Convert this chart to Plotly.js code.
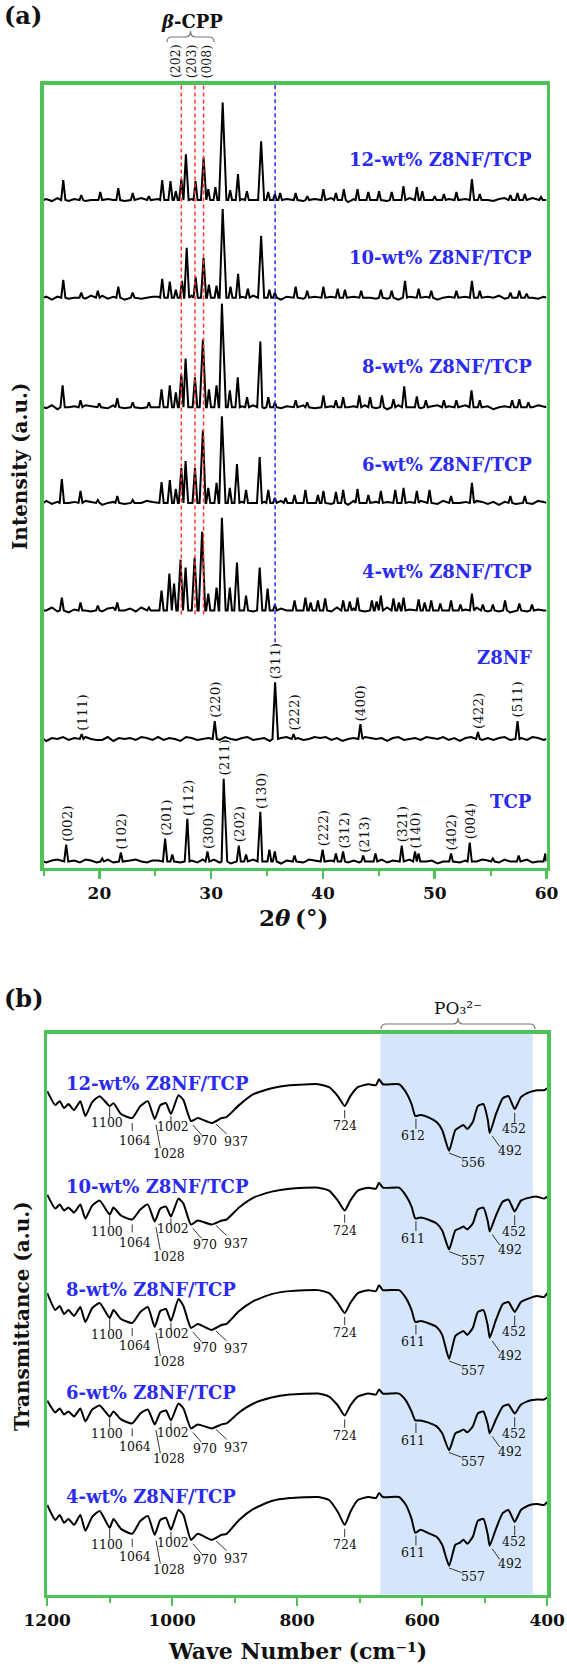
<!DOCTYPE html>
<html><head><meta charset="utf-8">
<script src="https://cdn.plot.ly/plotly-3.0.1.min.js"></script>
<style>body{margin:0;background:#fff}#chart{width:567px;height:1666px}</style>
</head><body><div id="chart"></div>
<script>
// ================= DATA : panel (a) XRD =================
// peak positions (2theta, deg) and intensities (a.u.)
const tcpPos = [17.03,20.25,21.92,25.88,26.52,27.87,29.67,31.12,32.47,33.12,34.40,35.21,35.69,37.46,39.97,41.16,41.80,43.60,44.70,47.05,48.24,48.55,51.46,53.13,55.20,57.51,59.90];
const tcpInt = [17,3,9,23,7,43,10,83,16,7,50,12,10,6,12,8,10,6,8,16,10,8,8,19,3,6,8];
const z8Pos = [18.41,30.32,35.72,37.37,43.35,53.87,57.41];
const z8Int = [5,18,57,5,15,7,18];
const c4Pos = [16.64,18.31,19.86,21.60,24.43,25.56,26.26,26.68,27.26,27.71,28.52,29.19,29.74,30.48,30.96,31.67,32.31,33.12,34.34,35.05,35.70,37.46,38.43,38.90,39.55,40.20,41.81,42.40,43.09,44.38,44.80,45.18,46.31,46.80,47.21,48.56,49.10,49.69,50.50,51.46,52.30,53.33,54.30,55.20,56.29,57.57,58.70];
const c4Int = [13,8,5,8,3,20,37,27,51,43,53,79,17,23,93,23,48,15,43,22,6,10,13,8,10,12,10,9,13,10,9,15,12,8,13,11,8,10,7,10,6,17,6,6,10,7,6];
const c6Pos = [16.64,18.31,19.86,21.60,22.98,25.56,26.30,26.84,27.33,27.71,28.55,29.26,29.74,30.48,30.96,31.67,32.31,33.12,34.34,35.11,35.70,36.66,37.46,38.43,39.55,40.04,41.16,41.81,43.09,44.06,45.18,46.47,47.21,48.40,49.53,51.46,53.33,56.77,58.06];
const c6Int = [24,12,3,7,3,21,23,14,35,42,35,73,15,20,87,15,39,13,46,13,5,5,8,13,8,12,11,13,14,8,12,13,15,12,13,7,20,7,7];
const c8Pos = [16.71,18.31,19.99,21.60,22.98,24.43,25.56,26.30,26.84,27.33,27.71,28.55,29.26,29.80,30.48,30.96,31.67,32.38,33.21,34.40,35.11,35.70,37.56,38.59,40.04,41.16,41.81,43.25,44.22,45.28,46.31,47.27,48.40,49.21,50.82,51.94,53.29,54.03,56.93,57.57,58.38];
const c8Int = [22,7,4,9,5,5,18,22,15,33,49,30,68,18,22,104,17,30,10,66,10,5,7,5,12,7,10,12,10,12,8,21,11,7,7,7,17,7,7,8,5];
const c10Pos = [16.77,18.38,19.86,21.69,22.98,25.62,26.30,26.84,27.39,27.81,28.61,29.32,29.80,30.48,31.03,31.73,32.41,33.28,34.47,35.21,35.70,37.56,38.59,40.04,41.32,41.97,43.42,45.18,46.15,47.34,48.56,49.69,51.94,53.33,54.03,56.77,57.57,58.22];
const c10Int = [18,5,7,11,5,19,16,8,17,50,21,40,13,12,89,11,24,9,62,8,5,11,7,11,9,8,7,8,7,17,9,7,7,17,7,5,7,4];
const c12Pos = [16.77,18.38,20.08,21.69,22.98,24.43,25.62,26.36,26.84,27.33,27.74,28.60,29.32,29.74,30.38,31.03,31.70,32.40,33.20,34.47,35.10,35.70,36.17,37.56,38.60,40.04,41.16,41.87,43.09,44.06,45.02,46.15,47.20,48.40,48.89,50.00,50.82,51.94,53.33,54.03,56.77,57.41,58.06,59.51];
const c12Int = [20,5,8,12,7,4,20,19,9,21,46,19,43,11,13,98,10,26,9,59,8,6,7,7,4,11,7,11,11,8,9,8,14,13,9,4,6,8,21,6,5,7,6,3];
// baseline fluctuation read every 0.5 deg (15.25 ... 59.75)
const nT  = [-1,1,2,-1,0,1,-1,2,1,-1, 0,2,-1,1,-2,1,2,0,-1,1, 1,-2,1,2,-1,0,1,-1,2,1, 2,-1,1,-2,0,1,-1,2,1,0, -1,2,-2,1,0,1,-1,2,1,-1, -2,1,0,2,-1,1,-1,2,0,-1, 2,-1,1,0,-2,2,1,-1,0,1, -2,0,1,2,-1,1,-1,0,2,1, 1,-1,2,0,-1,1,2,-1,0,1];
const nZ  = [-2,1,0,2,-1,1,-1,2,0,-1, -1,2,-2,1,0,1,-1,2,1,-1, 2,-1,1,0,-2,2,1,-1,0,1, 1,-1,2,0,-1,1,2,-1,0,1, -2,0,1,2,-1,1,-1,0,2,1, 2,-1,1,-2,0,1,-1,2,1,0, 1,-2,1,2,-1,0,1,-1,2,1, 0,2,-1,1,-2,1,2,0,-1,1, -1,1,2,-1,0,1,-1,2,1,-1];
const n4  = [0,3,-1,2,-2,1,3,0,-1,2, -1,2,3,-1,0,2,-1,3,1,-1, -2,0,2,3,-1,2,-1,0,3,1, 1,-2,2,3,-1,0,2,-1,3,1, 3,-1,2,0,-2,3,1,-1,0,2, 1,-1,3,0,-1,2,3,-1,0,1, -1,3,-2,2,0,1,-1,3,1,-1, -2,2,0,3,-1,1,-1,3,0,-1, 2,-1,1,-2,0,2,-1,2,1,0];
const n6  = [2,-1,1,-2,0,1,-1,2,1,0, -2,0,1,2,-1,1,-1,0,2,1, -2,1,0,2,-1,1,-1,2,0,-1, 0,2,-1,1,-2,1,2,0,-1,1, 1,-1,2,0,-1,1,2,-1,0,1, 2,-1,1,0,-2,2,1,-1,0,1, -1,1,2,-1,0,1,-1,2,1,-1, -1,2,-2,1,0,1,-1,2,1,-1, 1,-2,1,2,-1,0,1,-1,2,1];
const n8  = [-1,2,-2,1,0,1,-1,2,1,-1, 1,-1,2,0,-1,1,2,-1,0,1, 2,-1,1,-2,0,1,-1,2,1,0, -2,1,0,2,-1,1,-1,2,0,-1, 0,2,-1,1,-2,1,2,0,-1,1, -1,1,2,-1,0,1,-1,2,1,-1, 1,-2,1,2,-1,0,1,-1,2,1, 2,-1,1,0,-2,2,1,-1,0,1, -2,0,1,2,-1,1,-1,0,2,1];
const n10 = [1,-2,1,2,-1,0,1,-1,2,1, 2,-1,1,0,-2,2,1,-1,0,1, 1,-1,2,0,-1,1,2,-1,0,1, -1,1,2,-1,0,1,-1,2,1,-1, -1,2,-2,1,0,1,-1,2,1,-1, -2,1,0,2,-1,1,-1,2,0,-1, 2,-1,1,-2,0,1,-1,2,1,0, -2,0,1,2,-1,1,-1,0,2,1, 0,2,-1,1,-2,1,2,0,-1,1];
const n12 = [1,-1,2,0,-1,1,2,-1,0,1, -2,1,0,2,-1,1,-1,2,0,-1, 1,-2,1,2,-1,0,1,-1,2,1, -2,0,1,2,-1,1,-1,0,2,1, -1,2,-2,1,0,1,-1,2,1,-1, 0,2,-1,1,-2,1,2,0,-1,1, 2,-1,1,0,-2,2,1,-1,0,1, 2,-1,1,-2,0,1,-1,2,1,0, -1,1,2,-1,0,1,-1,2,1,-1];

const xrdNames = ['TCP','Z8NF','4-wt% Z8NF/TCP','6-wt% Z8NF/TCP','8-wt% Z8NF/TCP','10-wt% Z8NF/TCP','12-wt% Z8NF/TCP'];
const tcpHKL = ['(002)','(102)','(201)','(112)','(300)','(211)','(202)','(130)','(222)','(312)','(213)','(321)','(140)','(402)','(004)'];
const tcpHKLPos = [17.03,21.92,25.88,27.87,29.67,31.12,32.47,34.40,39.97,41.80,43.60,47.05,48.24,51.46,53.13];
const z8HKL = ['(111)','(220)','(311)','(222)','(400)','(422)','(511)'];
const z8HKLPos = [18.41,30.32,35.72,37.37,43.35,53.87,57.41];
const cppHKL = ['(202)','(203)','(008)'];
const cppPos = [27.33,28.55,29.32];   // beta-CPP reflections (red dashed)
const z8MainPos = [35.72];            // Z8NF (311) (blue dashed)

// ================= DATA : panel (b) FTIR =================
const ftirWN = [1200,1187,1180,1173,1166,1157,1147,1139,1128,1116,1100,1094,1082,1064,1051,1039,1028,1019,1010,1002,990,982,970,959,937,921,913,893,870,841,812,766,749,735,724,715,703,686,674,669,663,637,626,617,611,603,591,577,568,557,547,540,534,528,519,511,502,495,492,482,471,462,452,442,428,416,405,400];
const ft4  = [92,77,82,74,78,72,82,66,80,86,69,78,68,63,76,81,62,77,79,67,87,82,57,63,57,62,63,77,88,96,99,100,97,85,72,85,97,100,99,104,100,100,92,78,64,67,64,60,52,31,52,54,57,53,60,76,78,62,51,68,84,87,75,87,92,93,92,95];
const ft6  = [93,81,85,79,82,77,85,72,84,88,77,82,74,70,80,84,69,81,83,73,90,85,65,69,65,69,70,81,90,96,99,100,97,88,78,88,97,100,99,104,100,100,93,82,73,73,71,67,60,43,60,62,64,61,67,80,82,69,60,74,87,89,80,89,93,94,94,96];
const ft8  = [97,80,84,76,80,74,83,68,82,87,72,80,71,67,78,83,63,79,81,69,91,84,62,66,60,65,66,79,89,96,99,100,97,87,77,87,97,100,99,105,100,100,92,80,68,69,67,63,55,31,54,57,59,55,62,78,80,64,52,70,86,88,78,88,92,94,93,97];
const ft10 = [93,79,83,77,80,75,83,69,82,87,73,80,72,68,78,83,66,79,81,71,89,84,63,67,63,67,68,80,90,96,99,100,97,87,77,87,97,100,99,105,100,100,92,81,69,70,68,64,57,38,57,59,61,58,64,78,80,66,56,72,86,88,76,87,90,91,89,91];
const ft12 = [93,79,83,76,80,74,83,68,82,88,78,81,70,66,78,83,65,79,81,70,89,84,63,66,61,66,67,79,90,96,99,100,97,88,78,88,97,100,99,105,100,100,92,80,68,69,67,62,54,33,54,57,59,55,62,78,80,64,51,70,86,88,75,87,92,94,94,96];
const ftirNames = ['4-wt% Z8NF/TCP','6-wt% Z8NF/TCP','8-wt% Z8NF/TCP','10-wt% Z8NF/TCP','12-wt% Z8NF/TCP'];
const ftirPeakWN = [1100,1064,1028,1002,970,937,724,611,557,492,452];
const ftirPeakText = ['1100','1064','1028','1002','970','937','724','611','557','492','452'];
const ftirPeakText12 = ['1100','1064','1028','1002','970','937','724','612','556','492','452'];
const po3Band = [667,423];

// ================= LAYOUT / STYLE =================
const W = 567, H = 1666;
const GREEN = '#4cc257', BLUE = '#2b2bef', RED = '#ff3434', INK = '#111';
const SERIF = 'DejaVu Serif';
const px = p => p / W, py = p => 1 - p / H;

const noiseGrid = [];
for (let i = 0; i < 90; i++) noiseGrid.push(15.25 + 0.5 * i);

function buildXRD(pos, hts, noise) {
  const ent = pos.map((p, i) => ({x: p, y: hts[i], pk: true}));
  noise.forEach((v, j) => {
    const x = noiseGrid[j];
    if (pos.every(p => Math.abs(p - x) > 0.33)) ent.push({x: x, y: v, pk: false});
  });
  ent.sort((a, b) => a.x - b.x);
  const xs = [15], ys = [0];
  ent.forEach((e, k) => {
    if (e.pk) {
      const hw = 0.15 + 0.002 * e.y;
      const pvx = k > 0 ? ent[k - 1].x : 15, nxx = k < ent.length - 1 ? ent[k + 1].x : 60;
      xs.push(Math.max(e.x - hw, (pvx + e.x) / 2)); ys.push(0);
      xs.push(e.x); ys.push(e.y);
      xs.push(Math.min(e.x + hw, (e.x + nxx) / 2)); ys.push(0);
    } else { xs.push(e.x); ys.push(e.y); }
  });
  xs.push(60); ys.push(0);
  return {xs, ys};
}
function hAt(pos, hts, x) {
  let b = 0;
  pos.forEach((p, i) => { if (Math.abs(p - x) < Math.abs(pos[b] - x)) b = i; });
  return hts[b];
}

const xrdSets = [
  [tcpPos, tcpInt, nT], [z8Pos, z8Int, nZ], [c4Pos, c4Int, n4], [c6Pos, c6Int, n6],
  [c8Pos, c8Int, n8], [c10Pos, c10Int, n10], [c12Pos, c12Int, n12]
];
const xrdOffset = [6, 129, 258, 366, 462, 572, 670];
const xrdLabelY = [66, 211, 297, 405, 503, 612, 711];

const traces = [];
const annotations = [];
const shapes = [];
const note = (o) => annotations.push(Object.assign({showarrow: false}, o));

xrdSets.forEach((s, i) => {
  const b = buildXRD(s[0], s[1], s[2]);
  traces.push({x: b.xs, y: b.ys.map(v => v + xrdOffset[i]), xaxis: 'x', yaxis: 'y', mode: 'lines',
    line: {color: '#000', width: 2}, name: xrdNames[i], hoverinfo: 'skip'});
  note({xref: 'x', yref: 'y', x: 58.84, y: xrdLabelY[i], xanchor: 'right', yanchor: 'middle',
    text: xrdNames[i], font: {family: SERIF, size: 18, color: BLUE, weight: 'bold'}});
});

function hklLabels(names, pos, pk, ht, off) {
  names.forEach((t, i) => {
    note({xref: 'x', yref: 'y', x: pos[i], y: hAt(pk, ht, pos[i]) + off, yshift: 1,
      xanchor: 'center', yanchor: 'bottom', textangle: -90, text: t,
      font: {family: SERIF, size: 13.5, color: INK}});
  });
}
hklLabels(tcpHKL, tcpHKLPos, tcpPos, tcpInt, xrdOffset[0]);
hklLabels(z8HKL, z8HKLPos, z8Pos, z8Int, xrdOffset[1]);

const cppLabelX = [26.86, 28.31, 29.67];
cppHKL.forEach((t, i) => note({xref: 'x', yref: 'paper', x: cppLabelX[i], y: py(80),
  xanchor: 'center', yanchor: 'bottom', textangle: -90, text: t,
  font: {family: SERIF, size: 12.5, color: INK}}));
note({xref: 'paper', yref: 'paper', x: px(174), y: py(22), xanchor: 'right', yanchor: 'middle', xshift: 2,
  text: 'β', font: {family: SERIF, size: 18, color: INK, weight: 'bold', style: 'italic'}});
note({xref: 'paper', yref: 'paper', x: px(172), y: py(22), xanchor: 'left', yanchor: 'middle',
  text: '-CPP', font: {family: SERIF, size: 18, color: INK, weight: 'bold'}});

function brace(x1, x2, yEnd, yMid, yTip) {
  const xm = (x1 + x2) / 2, r = 5;
  const P = (x, y) => (x / W).toFixed(5) + ',' + (1 - y / H).toFixed(5);
  return 'M' + P(x1, yEnd) + ' Q' + P(x1, yMid) + ' ' + P(x1 + r, yMid) + ' L' + P(xm - r, yMid) +
    ' Q' + P(xm, yMid) + ' ' + P(xm, yTip) + ' Q' + P(xm, yMid) + ' ' + P(xm + r, yMid) +
    ' L' + P(x2 - r, yMid) + ' Q' + P(x2, yMid) + ' ' + P(x2, yEnd);
}
shapes.push({type: 'path', xref: 'paper', yref: 'paper', path: brace(167, 214, 42, 37, 31), line: {color: '#777', width: 1.2}});

cppPos.forEach(x => shapes.push({type: 'line', xref: 'x', yref: 'y', x0: x, x1: x, y0: 254, y1: 786,
  line: {color: RED, width: 1.5, dash: '4px,3px'}, layer: 'above'}));
z8MainPos.forEach(x => shapes.push({type: 'line', xref: 'x', yref: 'y', x0: x, x1: x, y0: 226, y1: 786,
  line: {color: BLUE, width: 1.5, dash: '4px,3px'}, layer: 'above'}));

// ---------- FTIR ----------
const ftSets = [ft4, ft6, ft8, ft10, ft12];
const ftOffset = [-2, 102, 206, 309, 413];
// leader geometry: [x1, dy1, x2, dy2, labelX, labelDy] relative to dip value
const leader = [
  [1100, -1, 1100, -11, 1105, -16.7], [1064, -5, 1064, -13, 1060, -23], [1026, -5.7, 1019, -29, 1005, -34.7],
  [1002, -2, 1002, -9, 999, -12.3], [967, -4, 953, -14, 947, -20], [930, -1, 913, -11, 898, -19],
  [724, -4, 724, -12.3, 723, -19.7], [610, -2.7, 610, -12.7, 614, -20], [557, -2.3, 537, -7, 519, -11.3],
  [488, -3, 476, -13.7, 459, -18], [452, -3.7, 452, -13.7, 453, -19.7]
];
shapes.push({type: 'rect', xref: 'x2', yref: 'y2 domain', x0: po3Band[0], x1: po3Band[1], y0: 0, y1: 1,
  fillcolor: '#d5e5fb', line: {width: 0}, layer: 'below'});
ftSets.forEach((s, i) => {
  const off = ftOffset[i];
  traces.push({x: ftirWN, y: s.map(v => v + off), xaxis: 'x2', yaxis: 'y2', mode: 'lines',
    line: {color: '#000', width: 2, shape: 'spline', smoothing: 0.5}, name: ftirNames[i], hoverinfo: 'skip'});
  note({xref: 'x2', yref: 'y2', x: 1172.5, y: off + 101, xanchor: 'left', yanchor: 'middle',
    text: ftirNames[i], font: {family: SERIF, size: 18, color: BLUE, weight: 'bold'}});
  const texts = i === 4 ? ftirPeakText12 : ftirPeakText;
  ftirPeakWN.forEach((wn, k) => {
    const v = s[ftirWN.indexOf(wn)] + off;
    const g = leader[k];
    shapes.push({type: 'line', xref: 'x2', yref: 'y2', x0: g[0], y0: v + g[1], x1: g[2], y1: v + g[3],
      line: {color: '#333', width: 1}});
    note({xref: 'x2', yref: 'y2', x: g[4], y: v + g[5], xanchor: 'center', yanchor: 'middle',
      text: texts[k], font: {family: SERIF, size: 12.5, color: INK}});
  });
});
shapes.push({type: 'path', xref: 'paper', yref: 'paper', path: brace(381, 535, 1029, 1024, 1018), line: {color: '#777', width: 1.2}});
note({xref: 'paper', yref: 'paper', x: px(458), y: py(1008), xanchor: 'center', yanchor: 'middle',
  text: 'PO₃²⁻', font: {family: SERIF, size: 17, color: INK}});

// panel letters & axis titles
const bigB = {family: SERIF, size: 24, color: INK, weight: 'bold'};
note({xref: 'paper', yref: 'paper', x: px(2), y: py(16), xanchor: 'left', yanchor: 'middle', text: '(a)', font: bigB});
note({xref: 'paper', yref: 'paper', x: px(2), y: py(998), xanchor: 'left', yanchor: 'middle', text: '(b)', font: bigB});
const ttl = {family: SERIF, size: 23, color: INK, weight: 'bold'};
note({xref: 'paper', yref: 'paper', x: px(275), y: py(917), xanchor: 'right', yanchor: 'middle', xshift: 2, text: '2', font: ttl});
note({xref: 'paper', yref: 'paper', x: px(275), y: py(917), xanchor: 'left', yanchor: 'middle', xshift: -2, text: 'θ',
  font: Object.assign({}, ttl, {style: 'italic'})});
note({xref: 'paper', yref: 'paper', x: px(293), y: py(917), xanchor: 'left', yanchor: 'middle', text: '(°)', font: ttl});
note({xref: 'paper', yref: 'paper', x: px(297), y: py(1651), xanchor: 'center', yanchor: 'middle',
  text: 'Wave Number (cm⁻¹)', font: {family: SERIF, size: 22, color: INK, weight: 'bold'}});
note({xref: 'paper', yref: 'paper', x: px(20), y: py(467), xanchor: 'center', yanchor: 'middle', textangle: -90,
  text: 'Intensity (a.u.)', font: {family: SERIF, size: 20, color: INK, weight: 'bold'}});
note({xref: 'paper', yref: 'paper', x: px(22), y: py(1316), xanchor: 'center', yanchor: 'middle', textangle: -90,
  text: 'Transmittance (a.u.)', font: {family: SERIF, size: 20, color: INK, weight: 'bold'}});

const frame = {showline: true, linecolor: GREEN, linewidth: 3.5, mirror: true, showgrid: false, zeroline: false};
const tickFont = {family: SERIF, size: 17, color: INK, weight: 'bold'};
const layout = {
  width: W, height: H, margin: {l: 0, r: 0, t: 0, b: 0}, paper_bgcolor: '#fff', plot_bgcolor: 'rgba(0,0,0,0)',
  showlegend: false,
  xaxis: Object.assign({}, frame, {domain: [px(43.5), px(546.5)], range: [15, 60], anchor: 'y',
    tick0: 0, dtick: 10, ticks: 'outside', ticklen: 8, tickwidth: 2.5, tickcolor: GREEN, tickfont: tickFont,
    minor: {tick0: 0, dtick: 5, ticks: 'outside', ticklen: 5, tickwidth: 2, tickcolor: GREEN}}),
  yaxis: Object.assign({}, frame, {domain: [py(867.5), py(84.5)], range: [0, 786], anchor: 'x',
    showticklabels: false, ticks: ''}),
  xaxis2: Object.assign({}, frame, {domain: [px(47.2), px(547.2)], range: [1200, 400], anchor: 'y2',
    tick0: 0, dtick: 200, ticks: 'outside', ticklen: 8, tickwidth: 2.5, tickcolor: GREEN, tickfont: tickFont,
    minor: {tick0: 0, dtick: 100, ticks: 'outside', ticklen: 5, tickwidth: 2, tickcolor: GREEN}}),
  yaxis2: Object.assign({}, frame, {domain: [py(1594.5), py(1033.5)], range: [0, 564], anchor: 'x2',
    showticklabels: false, ticks: ''}),
  annotations: annotations,
  shapes: shapes
};
Plotly.newPlot('chart', traces, layout, {displayModeBar: false, staticPlot: true});
</script></body></html>
